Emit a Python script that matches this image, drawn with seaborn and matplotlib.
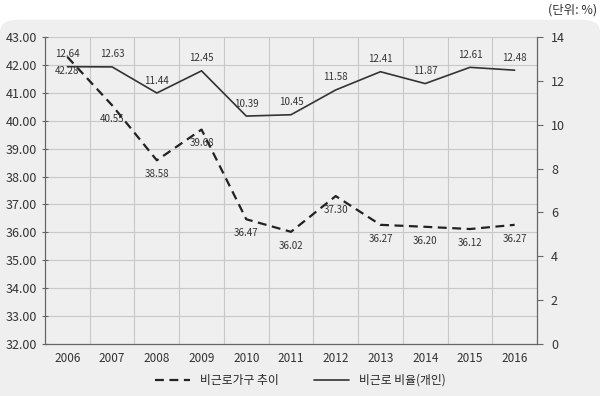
import pandas as pd
import matplotlib.pyplot as plt
import seaborn as sns
from matplotlib.patches import FancyBboxPatch
from matplotlib.ticker import FixedLocator, FormatStrFormatter

# data
years = [2006, 2007, 2008, 2009, 2010, 2011, 2012, 2013, 2014, 2015, 2016]
household = [42.28, 40.55, 38.58, 39.68, 36.47, 36.02, 37.30, 36.27, 36.20, 36.12, 36.27]
personal = [12.64, 12.63, 11.44, 12.45, 10.39, 10.45, 11.58, 12.41, 11.87, 12.61, 12.48]

df = pd.DataFrame({"year": years, "household": household, "personal": personal})

sns.set_style("white")
plt.rcParams['font.family'] = ['Noto Sans CJK KR', 'DejaVu Sans']

fig = plt.figure(figsize=(6, 3.96), dpi=100)
bg = "#efefef"
fig.patches.append(FancyBboxPatch((0.0, -0.05), 1.0, 1.0, boxstyle="round,pad=0,rounding_size=0.03",
                                  transform=fig.transFigure, facecolor=bg, edgecolor="none", zorder=-5))
fig.text(0.995, 0.975, "(단위: %)", ha="right", va="center", fontsize=9, color="#333333")

ax = fig.add_axes([0.075, 0.131, 0.82, 0.776])
ax.set_facecolor(bg)
ax2 = ax.twinx()

sns.lineplot(data=df, x="year", y="household", ax=ax, color="#222222", linewidth=1.6,
             linestyle=(0, (4, 2.5)), label="비근로가구 추이", legend=False)
sns.lineplot(data=df, x="year", y="personal", ax=ax2, color="#333333", linewidth=1.2,
             label="비근로 비율(개인)", legend=False)

ax.set_ylim(32, 43)
ax2.set_ylim(0, 14)
ax.set_xlim(2005.5, 2016.5)
ax.set_yticks(range(32, 44))
ax.yaxis.set_major_formatter(FormatStrFormatter("%.2f"))
ax2.set_yticks(range(0, 15, 2))

bounds = [y - 0.5 for y in years] + [years[-1] + 0.5]
ax.xaxis.set_major_locator(FixedLocator(bounds))
ax.xaxis.set_minor_locator(FixedLocator(years))
ax.set_xticklabels([], minor=False)
ax.set_xticklabels([str(y) for y in years], minor=True)
ax.tick_params(axis="x", which="minor", length=0, labelsize=8.5, colors="#333333", pad=6)
ax.tick_params(axis="x", which="major", length=4, color="#666666", direction="inout")
ax.tick_params(axis="y", labelsize=9, colors="#333333", length=4, color="#666666", direction="inout")
ax2.tick_params(axis="y", labelsize=9, colors="#333333", length=4, color="#666666", pad=6)

ax.grid(True, which="major", color="#c8c8c8", linewidth=0.8)
ax.set_axisbelow(True)
ax.set_xlabel("")
ax.set_ylabel("")
ax2.set_ylabel("")
for a in (ax, ax2):
    for s in a.spines.values():
        s.set_color("#666666")
        s.set_linewidth(0.8)
    a.spines["top"].set_visible(False)

for x, v in zip(years, household):
    ax.annotate(f"{v:.2f}", (x, v), xytext=(0, -10), textcoords="offset points",
                ha="center", va="center", fontsize=7, color="#333333")
for x, v in zip(years, personal):
    ax2.annotate(f"{v:.2f}", (x, v), xytext=(0, 9), textcoords="offset points",
                 ha="center", va="center", fontsize=7, color="#333333")

h1, l1 = ax.get_legend_handles_labels()
h2, l2 = ax2.get_legend_handles_labels()
fig.legend(h1 + h2, l1 + l2, loc="center", bbox_to_anchor=(0.5, 0.04), ncol=2, frameon=False,
           fontsize=8.5, handlelength=3, columnspacing=3)

fig.savefig("out.png", dpi=100, facecolor="white")
